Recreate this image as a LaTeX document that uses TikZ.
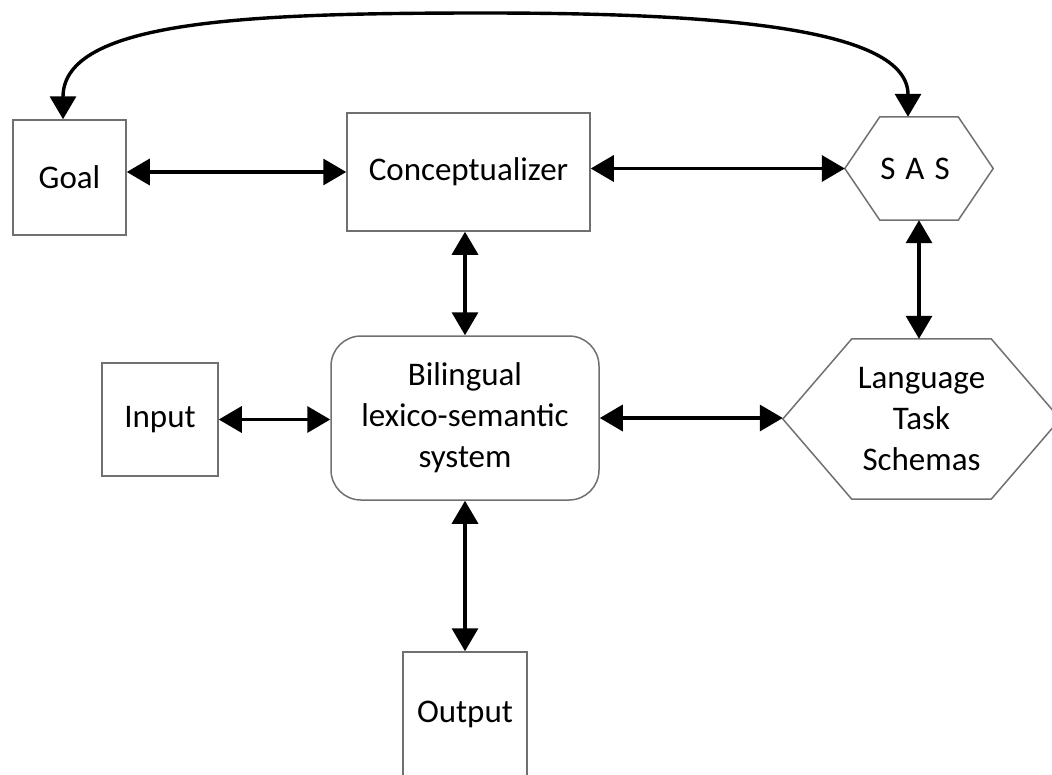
\documentclass[tikz,border=0pt]{standalone}
\usepackage{fontspec}
\setmainfont{Carlito}
\usetikzlibrary{arrows.meta}
\definecolor{boxgray}{RGB}{112,112,112}
\begin{document}
\begin{tikzpicture}[x=1pt,y=-1pt,
  txt/.style={inner sep=0pt, align=center, font=\fontsize{33}{41}\selectfont},
  box/.style={txt, draw=boxgray, line width=1.5pt, fill=white},
  hexnode/.style={txt, draw=none},
  hexline/.style={draw=boxgray, line width=1.5pt, line join=miter},
  link/.style={line width=3.4pt, {Triangle[length=23pt,width=26pt]}-{Triangle[length=23pt,width=26pt]}}
]
\useasboundingbox (0,0) rectangle (1052,774);

\node[box, minimum width=113pt, minimum height=115pt] (goal) at (69.5,177.5) {Goal};
\node[box, minimum width=243pt, minimum height=118pt] (concept) at (468.5,172) {Conceptualizer};
\node[hexnode, minimum width=148pt, minimum height=103pt] (sas) at (919,168.5) {S\hspace{10pt}A\hspace{10pt}S\hspace{8pt}};
\draw[hexline] (sas.west) -- ([xshift=35pt]sas.north west) -- ([xshift=-35pt]sas.north east)
  -- (sas.east) -- ([xshift=-35pt]sas.south east) -- ([xshift=35pt]sas.south west) -- cycle;

\node[box, minimum width=116pt, minimum height=113pt] (input) at (160,419.5) {Input};
\node[box, rounded corners=30pt, minimum width=268pt, minimum height=164pt] (bil) at (465,418) {Bilingual\\lexico-semantic\\system};
\node[hexnode, minimum width=277pt, minimum height=160pt] (lts) at (921.5,419) {Language\\Task\\Schemas};
\draw[hexline] (lts.west) -- ([xshift=69pt]lts.north west) -- ([xshift=-69pt]lts.north east)
  -- (lts.east) -- ([xshift=-69pt]lts.south east) -- ([xshift=69pt]lts.south west) -- cycle;

\node[box, minimum width=124pt, minimum height=124pt] (output) at (465,714) {Output};

\draw[link] (goal.east |- concept.west) -- (concept.west);
\draw[link] (concept.east |- sas.west) -- (sas.west);
\draw[link] (bil.north |- concept.south) -- (bil.north);
\draw[link] (sas.south) -- (sas.south |- lts.north);
\draw[link] (input.east) -- (input.east -| bil.west);
\draw[link] (bil.east) -- (bil.east -| lts.west);
\draw[link] (bil.south) -- (output.north);

\coordinate (peak) at (485,13);
\draw[link] ([xshift=-6.5pt]goal.north) .. controls (63,20) and (250,13) .. (peak)
  .. controls (720,13) and (908,28) .. ([xshift=-11pt]sas.north);
\end{tikzpicture}
\end{document}
